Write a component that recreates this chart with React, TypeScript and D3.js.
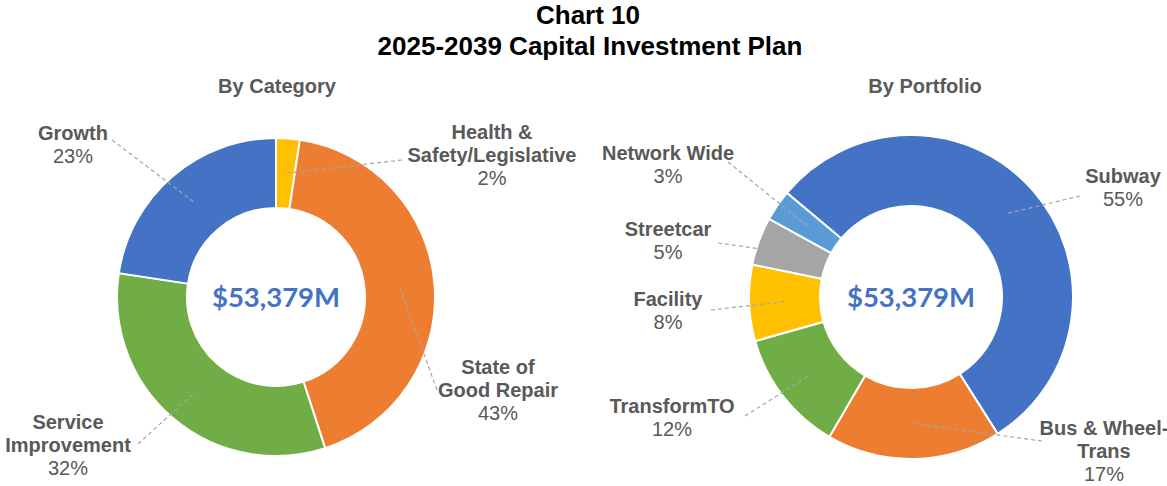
import * as d3 from "d3";

// By Category (share of total, %)
const categoryLabels = [["Health &", "Safety/Legislative"], ["State of", "Good Repair"], ["Service", "Improvement"], ["Growth"]];
const categoryValues = [2.4, 42.6, 32.4, 22.6];
const categoryColors = ["#FFC000", "#ED7D31", "#70AD47", "#4472C4"];

// By Portfolio (share of total, %)
const portfolioLabels = [["Subway"], ["Bus & Wheel-", "Trans"], ["TransformTO"], ["Facility"], ["Streetcar"], ["Network Wide"]];
const portfolioValues = [54.9, 17.4, 12.2, 7.6, 4.8, 3.1];
const portfolioColors = ["#4472C4", "#ED7D31", "#70AD47", "#FFC000", "#A5A5A5", "#5B9BD5"];

const totalLabel = "$53,379M";

// label placement: text centre x, first baseline y, leader start point
interface LabelPos { x: number; y: number; lx: number; ly: number; }

const categoryLabelPos: LabelPos[] = [
  { x: 492, y: 139, lx: 402, ly: 160 },
  { x: 498, y: 374, lx: 437, ly: 390 },
  { x: 68, y: 429, lx: 138, ly: 444 },
  { x: 73, y: 140, lx: 112, ly: 140 },
];

const portfolioLabelPos: LabelPos[] = [
  { x: 1123, y: 183, lx: 1080, ly: 196 },
  { x: 1104, y: 435, lx: 1042, ly: 441 },
  { x: 672, y: 413, lx: 745, ly: 416 },
  { x: 668, y: 306, lx: 711, ly: 310 },
  { x: 668, y: 236, lx: 718, ly: 243 },
  { x: 668, y: 160, lx: 728, ly: 162 },
];

const textGrey = "#595959";
const labelFont = "'Liberation Sans', Arial, sans-serif";

interface DonutProps {
  cx: number;
  cy: number;
  outer: number;
  inner: number;
  startDeg: number;
  title: string;
  titleX: number;
  labels: string[][];
  values: number[];
  colors: string[];
  pos: LabelPos[];
}

const Donut = ({ cx, cy, outer, inner, startDeg, title, titleX, labels, values, colors, pos }: DonutProps) => {
  const a0 = (startDeg * Math.PI) / 180;
  const pie = d3.pie<number>().sort(null).startAngle(a0).endAngle(a0 + 2 * Math.PI);
  const arcs = pie(values);
  const arc = d3.arc<d3.PieArcDatum<number>>().innerRadius(inner).outerRadius(outer);
  const lineH = 23;

  return (
    <g>
      <text x={titleX} y={93} textAnchor="middle" fontSize={20} fontWeight="bold" fill={textGrey} fontFamily={labelFont}>
        {title}
      </text>
      <g transform={`translate(${cx},${cy})`}>
        {arcs.map((a, i) => (
          <path key={i} d={arc(a) ?? ""} fill={colors[i]} stroke="#fff" strokeWidth={2} />
        ))}
        <text x={0} y={10} textAnchor="middle" fontSize={27.5} fontWeight="bold" fill="#4472C4" fontFamily="Lato, 'Open Sans', sans-serif">
          {totalLabel}
        </text>
      </g>
      {arcs.map((a, i) => {
        const [mx, my] = arc.centroid(a);
        const p = pos[i];
        return (
          <line key={"l" + i} x1={p.lx} y1={p.ly} x2={cx + mx} y2={cy + my}
            stroke="#A6A6A6" strokeWidth={1.2} strokeDasharray="4,3" />
        );
      })}
      {arcs.map((a, i) => {
        const p = pos[i];
        const lines = labels[i];
        return (
          <text key={"t" + i} textAnchor="middle" fontSize={20} fill={textGrey} fontFamily={labelFont}>
            {lines.map((s, j) => (
              <tspan key={j} x={p.x} y={p.y + j * lineH} fontWeight="bold">{s}</tspan>
            ))}
            <tspan x={p.x} y={p.y + lines.length * lineH}>{Math.round(a.data)}%</tspan>
          </text>
        );
      })}
    </g>
  );
};

export default function App() {
  const width = 1167;
  const height = 486;
  return (
    <svg width={width} height={height} viewBox={`0 0 ${width} ${height}`}
      style={{ position: "absolute", left: 0, top: 0, background: "#fff" }}>
      <text x={588} y={24} textAnchor="middle" fontSize={26} fontWeight="bold" fill="#000" fontFamily={labelFont}>
        Chart 10
      </text>
      <text x={590} y={55} textAnchor="middle" fontSize={26} fontWeight="bold" fill="#000" fontFamily={labelFont}>
        2025-2039 Capital Investment Plan
      </text>
      <Donut cx={276} cy={297} outer={159} inner={89} startDeg={0} title="By Category" titleX={277}
        labels={categoryLabels} values={categoryValues} colors={categoryColors} pos={categoryLabelPos} />
      <Donut cx={911} cy={297} outer={162} inner={91} startDeg={-50} title="By Portfolio" titleX={925}
        labels={portfolioLabels} values={portfolioValues} colors={portfolioColors} pos={portfolioLabelPos} />
    </svg>
  );
}
